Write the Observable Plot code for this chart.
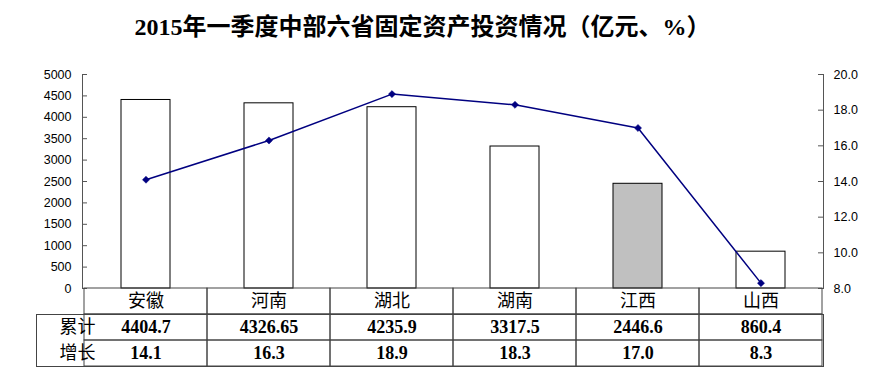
<!DOCTYPE html>
<html><head><meta charset="utf-8">
<script src="https://cdn.jsdelivr.net/npm/d3@7"></script>
<script src="https://cdn.jsdelivr.net/npm/@observablehq/plot@0.6"></script>
<style>
body{margin:0;background:#fff;width:881px;height:389px;position:relative;overflow:hidden}
#title{position:absolute;left:0;top:11px;width:845px;text-align:center;font-family:"Liberation Serif","Noto Sans CJK SC",serif;font-weight:bold;font-size:24px;line-height:32px;color:#000}
#chart{position:absolute;left:0;top:58px}
#table{position:absolute;left:0;top:287px}
</style></head><body>
<div id="title">2015年一季度中部六省固定资产投资情况（亿元、%）</div>
<div id="chart"></div>
<div id="table"></div>
<script>
const provinces = ["安徽","河南","湖北","湖南","江西","山西"];
const cumulative = [4404.7, 4326.65, 4235.9, 3317.5, 2446.6, 860.4];
const cumulativeLabels = ["4404.7","4326.65","4235.9","3317.5","2446.6","860.4"];
const growth = [14.1, 16.3, 18.9, 18.3, 17.0, 8.3];
const growthLabels = ["14.1","16.3","18.9","18.3","17.0","8.3"];
const leftTicks = [0,500,1000,1500,2000,2500,3000,3500,4000,4500,5000];
const rightTicks = [8,10,12,14,16,18,20];
const rightTickLabels = ["8.0","10.0","12.0","14.0","16.0","18.0","20.0"];
const highlighted = "江西";
const rowKeys = ["name","累计","增长"];
const rowLabels = ["累计","增长"];

const leftMax = 5000, rightMin = 8, rightMax = 20;
const toLeft = g => (g - rightMin) / (rightMax - rightMin) * leftMax;
const rightLabelMap = new Map(rightTicks.map((t, i) => [toLeft(t), rightTickLabels[i]]));

const bars = provinces.map((p, i) => ({p, v: cumulative[i], fill: p === highlighted ? "#c0c0c0" : "#ffffff"}));
const pts = provinces.map((p, i) => ({p, g: toLeft(growth[i])}));

const W = 881, ML = 82, MR = 58;
const plotW = W - ML - MR;
const axisFont = "'Liberation Sans', Arial, sans-serif";

const chart = Plot.plot({
  width: W, height: 240, marginTop: 16, marginBottom: 10, marginLeft: ML, marginRight: MR,
  style: {fontFamily: axisFont, fontSize: "12.5px", color: "#000", background: "transparent", overflow: "visible"},
  x: {domain: provinces, padding: 0, axis: null},
  y: {domain: [0, leftMax], axis: null},
  color: {type: "identity"},
  marks: [
    Plot.barY(bars, {x: "p", y: "v", fill: "fill", stroke: "#000", strokeWidth: 1, insetLeft: 37, insetRight: 37}),
    Plot.tickY(leftTicks, {y: d => d, stroke: "#555", insetRight: plotW - 5}),
    Plot.tickY(rightTicks.map(toLeft), {y: d => d, stroke: "#555", insetLeft: plotW - 5}),
    Plot.frame({anchor: "left", stroke: "#555"}),
    Plot.frame({anchor: "right", stroke: "#555"}),
    Plot.axisY(leftTicks, {anchor: "left", tickSize: 0, tickPadding: 11, tickFormat: d => String(d), fill: "#000"}),
    Plot.axisY(rightTicks.map(toLeft), {anchor: "right", tickSize: 0, tickPadding: 10, tickFormat: d => rightLabelMap.get(d), fill: "#000"}),
    Plot.line(pts, {x: "p", y: "g", stroke: "#000080", strokeWidth: 1.5}),
    Plot.dot(pts, {x: "p", y: "g", symbol: "diamond2", r: 3.2, fill: "#000080", stroke: "#000080", strokeWidth: 0.5})
  ]
});
document.getElementById("chart").appendChild(chart);

const cells = [];
for (const r of rowKeys) for (const p of provinces) cells.push({p, r});
const valueRows = [];
provinces.forEach((p, i) => {
  valueRows.push({p, r: "累计", t: cumulativeLabels[i]});
  valueRows.push({p, r: "增长", t: growthLabels[i]});
});

const table = Plot.plot({
  width: W, height: 80, marginTop: 1, marginBottom: 1, marginLeft: ML, marginRight: MR,
  style: {fontFamily: "'Liberation Serif', 'Noto Sans CJK SC', serif", fontSize: "18px", color: "#000", background: "transparent", overflow: "visible"},
  x: {domain: provinces, padding: 0, axis: null},
  y: {domain: rowKeys, padding: 0, axis: null},
  marks: [
    Plot.frame({insetLeft: -46, insetTop: 26, stroke: "#444"}),
    Plot.cell(cells, {x: "p", y: "r", fill: "none", stroke: "#444"}),
    Plot.text(provinces, {x: d => d, y: () => "name", text: d => d, fontSize: 18, fill: "#000", fontFamily: "'Noto Sans CJK SC', serif"}),
    Plot.text(valueRows, {x: "p", y: "r", text: "t", fontSize: 18, fontWeight: "bold", fill: "#000"}),
    Plot.text(rowLabels, {y: d => d, text: d => d, frameAnchor: "left", dx: -23, fontSize: 18, fill: "#000", fontFamily: "'Noto Sans CJK SC', serif"})
  ]
});
document.getElementById("table").appendChild(table);
</script>
</body></html>
